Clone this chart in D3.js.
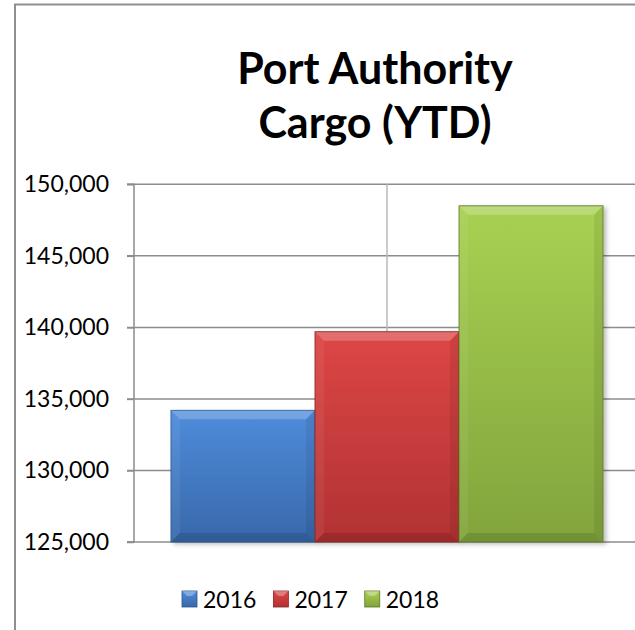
<!DOCTYPE html>
<html>
<head>
<meta charset="utf-8">
<script src="https://cdn.jsdelivr.net/npm/d3@7/dist/d3.min.js"></script>
<style>
  html, body { margin: 0; padding: 0; background: #fff; }
  svg { display: block; font-family: Lato, "Open Sans", sans-serif; }
</style>
</head>
<body>
<div id="chart"></div>
<script>
// ── Data ──────────────────────────────────────────────────────────────────
const titleLines = ['Port Authority', 'Cargo (YTD)'];
const categories = ['Cargo'];
const years      = ['2016', '2017', '2018'];
const cargo      = [134200, 139700, 148500];
const yTicks     = [125000, 130000, 135000, 140000, 145000, 150000];

// face gradient (top, bottom) and edge colour per series
const palette = [
  { top: '#4f8cdb', bot: '#3868aa', edge: '#2b5690' },
  { top: '#dd4646', bot: '#b23232', edge: '#882222' },
  { top: '#a8d152', bot: '#82a43c', edge: '#5c7628' },
];

const W = 635, H = 630;
const M = { top: 184.3, left: 134, right: -5, bottom: 88 };

const svg = d3.select('#chart').append('svg').attr('width', W).attr('height', H);
const defs = svg.append('defs');

palette.forEach((p, i) => {
  const gr = defs.append('linearGradient').attr('id', 'grad' + i)
    .attr('x1', 0).attr('x2', 0).attr('y1', 0).attr('y2', 1);
  gr.append('stop').attr('offset', '0%').attr('stop-color', p.top);
  gr.append('stop').attr('offset', '100%').attr('stop-color', p.bot);
});

const shadow = defs.append('filter').attr('id', 'shadow')
  .attr('x', '-10%').attr('y', '-10%').attr('width', '130%').attr('height', '130%');
shadow.append('feDropShadow').attr('dx', 3).attr('dy', 2)
  .attr('stdDeviation', 2).attr('flood-color', '#000').attr('flood-opacity', 0.25);

// ── Outer chart border (cropped at right/bottom) ─────────────────────────
svg.append('path')
  .attr('d', `M15,${H} L15,4.5 L${W},4.5`)
  .attr('fill', 'none').attr('stroke', '#8f8f8f').attr('stroke-width', 2);

// ── Title ────────────────────────────────────────────────────────────────
svg.append('text')
  .attr('x', 375).attr('y', 84)
  .attr('text-anchor', 'middle')
  .attr('font-size', 43).attr('font-weight', 700).attr('fill', '#000')
  .selectAll('tspan').data(titleLines).join('tspan')
  .attr('x', 375).attr('dy', (d, i) => i ? 54 : 0)
  .text(d => d);

// ── Scales ───────────────────────────────────────────────────────────────
const x0 = d3.scaleBand().domain(categories)
  .range([M.left, W - M.right]).paddingInner(0.146).paddingOuter(0.073);
const x1 = d3.scaleBand().domain(years).range([0, x0.bandwidth()]);
const y = d3.scaleLinear().domain([125000, 150000]).range([H - M.bottom, M.top]);

// ── Grid ─────────────────────────────────────────────────────────────────
svg.append('g').selectAll('line').data(yTicks).join('line')
  .attr('x1', M.left - 7).attr('x2', W)
  .attr('y1', d => y(d)).attr('y2', d => y(d))
  .attr('stroke', '#8c8c8c').attr('stroke-width', 1.5);

// vertical category gridline through the middle of the band
svg.append('g').selectAll('line').data(categories).join('line')
  .attr('x1', d => x0(d) + x0.bandwidth() / 2).attr('x2', d => x0(d) + x0.bandwidth() / 2)
  .attr('y1', y(150000)).attr('y2', y(125000))
  .attr('stroke', '#b8b8b8').attr('stroke-width', 1.5);

// ── Bars with Excel-like bevel ───────────────────────────────────────────
const bars = years.map((yr, i) => ({ yr, v: cargo[i], i, cat: categories[0] }));
const bevel = 9;

const barG = svg.append('g').selectAll('g').data(bars).join('g')
  .attr('filter', 'url(#shadow)');

barG.each(function (d) {
  const g = d3.select(this);
  const bx = x0(d.cat) + x1(d.yr), bw = x1.bandwidth();
  const by = y(d.v), bh = y(125000) - y(d.v);
  const p = palette[d.i];
  g.append('rect')
    .attr('x', bx).attr('y', by).attr('width', bw).attr('height', bh)
    .attr('fill', `url(#grad${d.i})`);
  const b = bevel;
  const faces = [
    { pts: [[bx, by], [bx + bw, by], [bx + bw - b, by + b], [bx + b, by + b]], c: '#fff', o: 0.22 },
    { pts: [[bx, by], [bx + b, by + b], [bx + b, by + bh - b], [bx, by + bh]], c: '#fff', o: 0.06 },
    { pts: [[bx + bw, by], [bx + bw, by + bh], [bx + bw - b, by + bh - b], [bx + bw - b, by + b]], c: '#000', o: 0.07 },
    { pts: [[bx, by + bh], [bx + b, by + bh - b], [bx + bw - b, by + bh - b], [bx + bw, by + bh]], c: '#000', o: 0.12 },
  ];
  g.selectAll('polygon').data(faces).join('polygon')
    .attr('points', f => f.pts.map(q => q.join(',')).join(' '))
    .attr('fill', f => f.c).attr('fill-opacity', f => f.o);
  g.append('rect')
    .attr('x', bx).attr('y', by).attr('width', bw).attr('height', bh)
    .attr('fill', 'none').attr('stroke', p.edge).attr('stroke-width', 1).attr('stroke-opacity', 0.8);
});

// ── Y axis ───────────────────────────────────────────────────────────────
svg.append('g')
  .attr('transform', `translate(${M.left},0)`)
  .call(d3.axisLeft(y).tickValues(yTicks).tickSize(7).tickPadding(18)
    .tickFormat(d3.format(',')))
  .call(a => a.select('.domain').attr('stroke', '#8c8c8c').attr('stroke-width', 1.5)
    .attr('d', `M-7,${y(150000)}H0V${y(125000)}H-7`))
  .call(a => a.selectAll('line').attr('stroke', '#8c8c8c').attr('stroke-width', 1.5))
  .call(a => a.selectAll('text').attr('font-size', 23).attr('fill', '#000')
    .attr('font-family', 'Lato, "Open Sans", sans-serif'));

// ── Legend ───────────────────────────────────────────────────────────────
const legend = svg.append('g').attr('transform', 'translate(182,591)');
let lx = 0;
years.forEach((yr, i) => {
  const item = legend.append('g').attr('transform', `translate(${lx},0)`);
  item.append('rect').attr('width', 15).attr('height', 16)
    .attr('fill', `url(#grad${i})`).attr('stroke', palette[i].edge).attr('stroke-width', 0.8);
  item.append('polygon').attr('points', '0,0 15,0 10,5 5,5')
    .attr('fill', '#fff').attr('fill-opacity', 0.3);
  const t = item.append('text').attr('x', 21).attr('y', 16.5)
    .attr('font-size', 23).attr('fill', '#000').text(yr);
  lx += 21 + t.node().getComputedTextLength() + 17;
});
</script>
</body>
</html>
